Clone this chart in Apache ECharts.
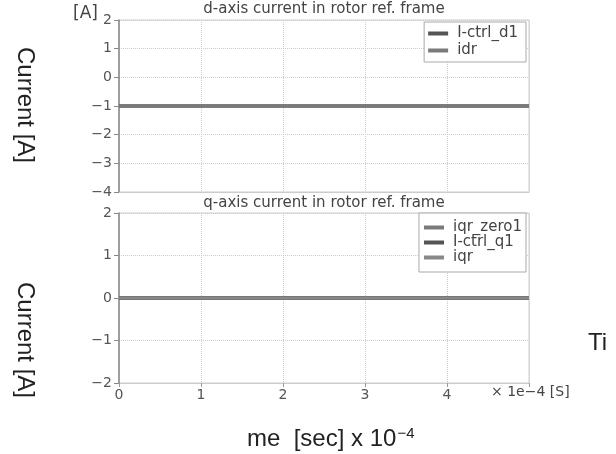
<!DOCTYPE html>
<html>
<head>
<meta charset="utf-8">
<script src="https://cdn.jsdelivr.net/npm/echarts@6/dist/echarts.min.js"></script>
<style>
  html, body { margin: 0; padding: 0; background: #fff; }
  #main { width: 616px; height: 454px; }
</style>
</head>
<body>
<div id="main"></div>
<script>
// time in units of 1e-4 s
var timeTicks = [0, 1, 2, 3, 4, 5];
// d-axis currents [A]
var ictrlD1 = [-1, -1, -1, -1, -1, -1];
var idr = [-1, -1, -1, -1, -1, -1];
// q-axis currents [A]
var iqrZero1 = [0, 0, 0, 0, 0, 0];
var ictrlQ1 = [0, 0, 0, 0, 0, 0];
var iqr = [0, 0, 0, 0, 0, 0];

var small = 'DejaVu Sans, sans-serif';
var big = 'Liberation Sans, Arial, sans-serif';
var txt = '#444';

function pairs(vals) {
    return timeTicks.map(function (t, i) { return [t, vals[i]]; });
}

function xAxisFor(idx, showLabels) {
    return {
        type: 'value', gridIndex: idx, min: 0, max: 5, interval: 1,
        axisLine: { show: true, onZero: false, lineStyle: { color: '#ccc', width: 1 } },
        axisTick: { show: showLabels, length: 4, lineStyle: { color: '#999' } },
        axisLabel: {
            show: showLabels, color: '#555', fontSize: 14, fontFamily: small, margin: 5,
            formatter: function (v) { return v === 5 ? '' : String(v); }
        },
        splitLine: { show: true, lineStyle: { color: '#ccc', type: 'dotted' } }
    };
}

function yAxisFor(idx, min, max) {
    return {
        type: 'value', gridIndex: idx, min: min, max: max, interval: 1,
        axisLine: { show: true, onZero: false, lineStyle: { color: '#888', width: 1.5 } },
        axisTick: { show: true, length: 5, lineStyle: { color: '#888' } },
        axisLabel: {
            color: '#555', fontSize: 14, fontFamily: small, margin: 7,
            formatter: function (v) { return v < 0 ? '\u2212' + Math.abs(v) : String(v); }
        },
        splitLine: { show: true, lineStyle: { color: '#ccc', type: 'dotted' } }
    };
}

function lineSeries(name, vals, color, width, xi, yi) {
    return {
        name: name, type: 'line', xAxisIndex: xi, yAxisIndex: yi,
        data: pairs(vals), showSymbol: false, symbol: 'none',
        lineStyle: { color: color, width: width }, itemStyle: { color: color },
        animation: false
    };
}

var legendBase = {
    orient: 'vertical', right: 90, icon: 'rect',
    itemWidth: 20, itemHeight: 4,
    borderColor: '#aaa', borderWidth: 1, backgroundColor: '#fff'
};

var myChart = echarts.init(document.getElementById('main'));
var option = {
    backgroundColor: '#fff',
    animation: false,
    title: [
        { text: 'd-axis current in rotor ref. frame', left: 324, textAlign: 'center', top: 2, padding: 0,
          textStyle: { color: txt, fontSize: 15, fontWeight: 'normal', fontFamily: small } },
        { text: 'q-axis current in rotor ref. frame', left: 324, textAlign: 'center', top: 196, padding: 0,
          textStyle: { color: txt, fontSize: 15, fontWeight: 'normal', fontFamily: small } }
    ],
    grid: [
        { left: 119, top: 20, width: 410, height: 172, show: true, borderColor: '#ccc', borderWidth: 1 },
        { left: 119, top: 213, width: 410, height: 170, show: true, borderColor: '#ccc', borderWidth: 1 }
    ],
    xAxis: [xAxisFor(0, false), xAxisFor(1, true)],
    yAxis: [yAxisFor(0, -4, 2), yAxisFor(1, -2, 2)],
    legend: [
        Object.assign({}, legendBase, { top: 22, itemGap: 2, padding: [4, 8, 4, 4],
            textStyle: { color: txt, fontSize: 15, lineHeight: 15, fontFamily: small, padding: [0, 0, 0, 4] },
            data: ['I-ctrl_d1', 'idr'] }),
        Object.assign({}, legendBase, { top: 213, itemGap: 0, padding: [7, 4, 7, 5],
            textStyle: { color: txt, fontSize: 15, lineHeight: 15, fontFamily: small, padding: [0, 0, 0, 4] },
            data: ['iqr_zero1', 'I-ctrl_q1', 'iqr'] })
    ],
    series: [
        lineSeries('I-ctrl_d1', ictrlD1, '#555', 3.5, 0, 0),
        lineSeries('idr', idr, '#7a7a7a', 2.5, 0, 0),
        lineSeries('iqr_zero1', iqrZero1, '#7a7a7a', 3.5, 1, 1),
        lineSeries('I-ctrl_q1', ictrlQ1, '#555', 3, 1, 1),
        lineSeries('iqr', iqr, '#888', 2, 1, 1)
    ],
    graphic: [
        { type: 'text', left: 73, top: 5, style: { text: '[A]', fill: txt, font: '17px ' + small } },
        { type: 'text', x: 25, y: 105, rotation: -Math.PI / 2,
          style: { text: 'Current [A]', fill: '#222', font: '24px ' + big, textAlign: 'center', textVerticalAlign: 'middle' } },
        { type: 'text', x: 25, y: 340, rotation: -Math.PI / 2,
          style: { text: 'Current [A]', fill: '#222', font: '24px ' + big, textAlign: 'center', textVerticalAlign: 'middle' } },
        { type: 'text', left: 491, top: 385, style: { text: '\u00d7 1e\u22124 [S]', fill: txt, font: '14px ' + small } },
        { type: 'text', left: 588, top: 331, style: { text: 'Ti', fill: '#222', font: '24px ' + big } },
        { type: 'text', left: 247, top: 426, style: {
            text: '{a|me  [sec] x 10}{s|\u22124}',
            rich: {
                a: { fill: '#222', fontSize: 24, fontFamily: big },
                s: { fill: '#222', fontSize: 15, fontFamily: big, verticalAlign: 'top', padding: [0, 0, 12, 1] }
            }
        } }
    ]
};
myChart.setOption(option);
</script>
</body>
</html>
